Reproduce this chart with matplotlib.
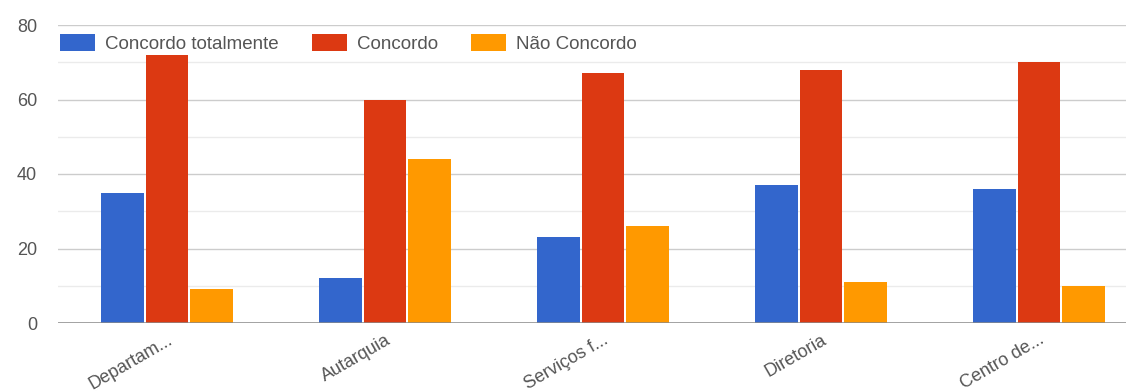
import matplotlib
matplotlib.use("Agg")
import matplotlib.pyplot as plt
import numpy as np

categories = ["Departam...", "Autarquia", "Serviços f...", "Diretoria", "Centro de..."]
series_names = ["Concordo totalmente", "Concordo", "Não Concordo"]
concordo_totalmente = [35, 12, 23, 37, 36]
concordo = [72, 60, 67, 68, 70]
nao_concordo = [9, 44, 26, 11, 10]
colors = ["#3366cc", "#dc3912", "#ff9900"]
text_color = "#555555"

plt.rcParams["font.family"] = ["Liberation Sans", "DejaVu Sans"]

W, H = 1126, 392
fig = plt.figure(figsize=(W / 100, H / 100), dpi=100)
# plot area runs a little past the right edge of the canvas
ax = fig.add_axes([58 / W, 69 / H, 1090 / W, 298 / H])

x = np.arange(len(categories))
width = 0.197
pitch = 0.206
for i, (vals, name) in enumerate(zip([concordo_totalmente, concordo, nao_concordo], series_names)):
    ax.bar(x + (i - 1) * pitch, vals, width, color=colors[i], label=name, zorder=3)

ax.set_xlim(-0.5, len(categories) - 0.5)
ax.set_ylim(0, 80)
ax.set_yticks([0, 20, 40, 60, 80])
ax.set_yticks([10, 30, 50, 70], minor=True)
ax.grid(axis="y", which="major", color="#cccccc", linewidth=1, zorder=0)
ax.grid(axis="y", which="minor", color="#ebebeb", linewidth=1, zorder=0)
ax.axhline(0, color="#8a8a8a", linewidth=1.8, zorder=4)

for s in ax.spines.values():
    s.set_visible(False)
ax.tick_params(axis="both", which="both", length=0)
ax.tick_params(axis="y", labelsize=13, labelcolor=text_color, pad=15)
ax.set_xticks(x)
ax.set_xticklabels(categories, rotation=30, ha="right", rotation_mode="anchor",
                   fontsize=13, color=text_color)
ax.tick_params(axis="x", pad=6)

leg = fig.legend(loc="upper left", bbox_to_anchor=(60 / W, 1 - 34 / H), ncol=3,
                 frameon=False, fontsize=13.5, handlelength=1.87, handleheight=1.0,
                 columnspacing=1.75, handletextpad=0.55, borderpad=0, borderaxespad=0)
for t in leg.get_texts():
    t.set_color(text_color)

fig.savefig("out.png", dpi=100)
